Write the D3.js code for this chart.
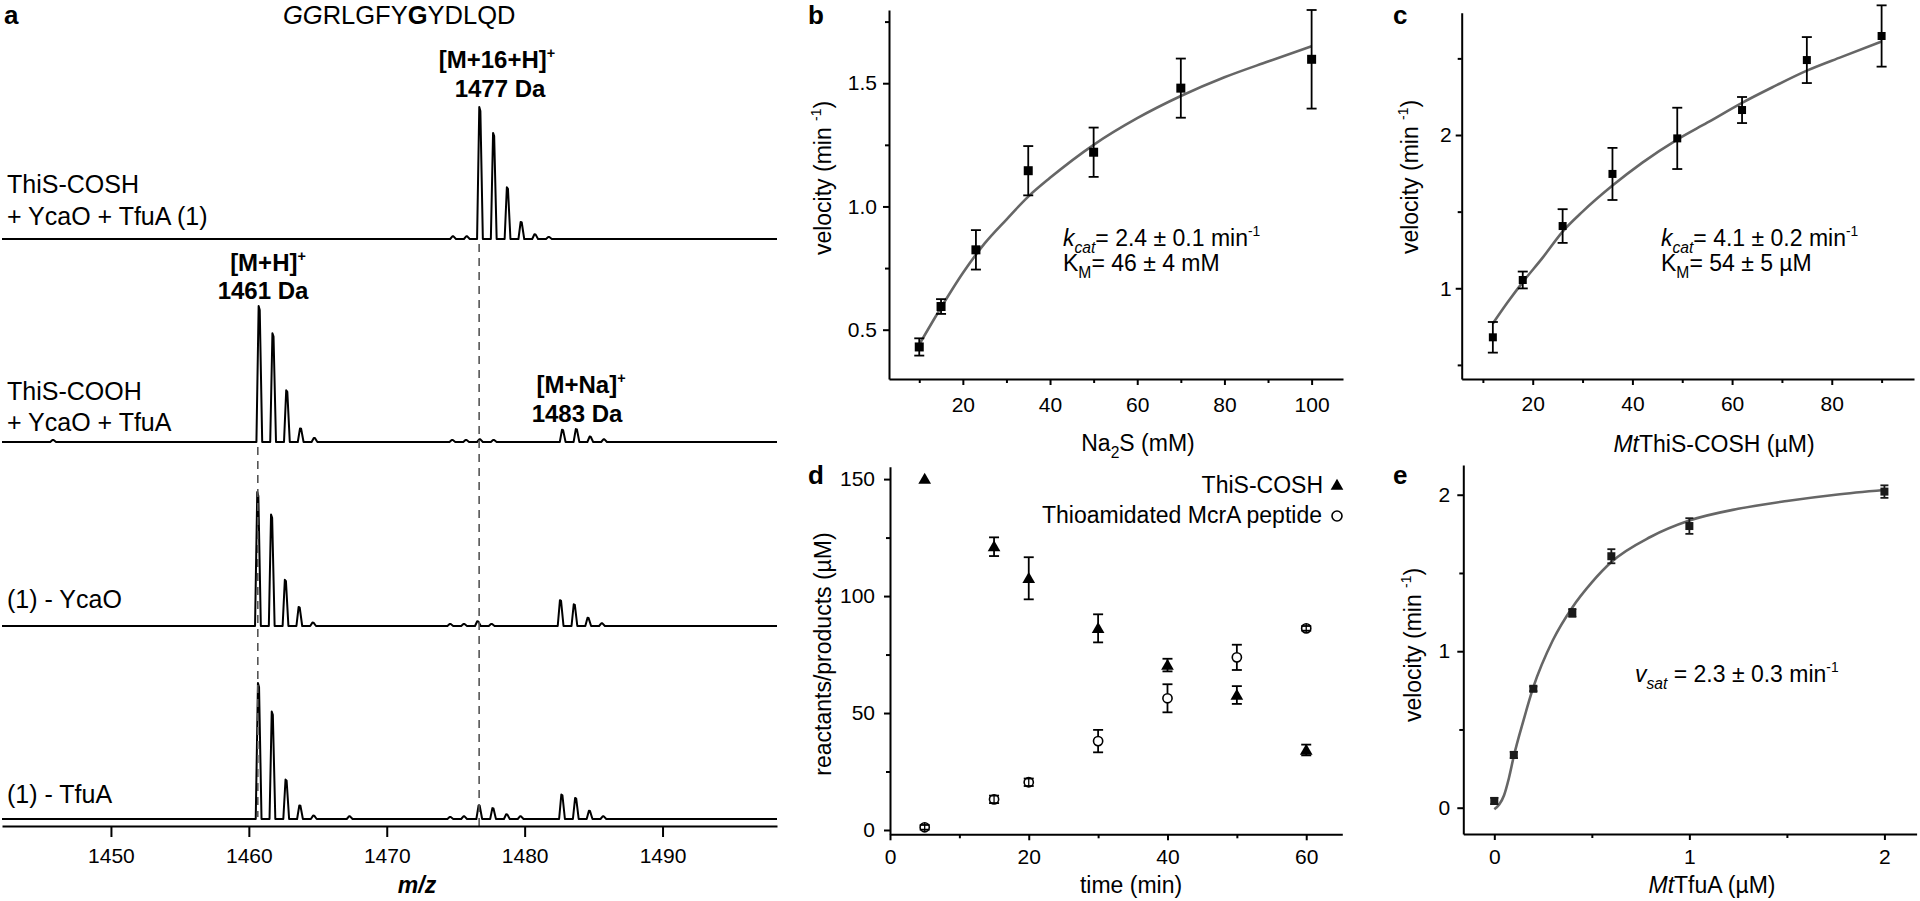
<!DOCTYPE html>
<html><head><meta charset="utf-8">
<script src="https://cdn.jsdelivr.net/npm/d3@7"></script>
<style>
body{margin:0;background:#fff;}
svg text{font-family:"Liberation Sans",Arial,sans-serif;fill:#000;}
</style></head>
<body><svg id="chart" width="1920" height="901"></svg>
<script>
// ---------------- DATA ----------------
// Panel a: MALDI spectra  [m/z, relative intensity %]
const mzTicks = [1450, 1460, 1470, 1480, 1490];
const spec1 = [[1474.8,2],[1475.8,2],[1476.75,97],[1477.75,78],[1478.75,38],[1479.75,12.5],[1480.75,3.5],[1481.75,1.5]];
const spec2 = [[1445.8,1.5],[1460.75,100],[1461.75,80],[1462.75,38],[1463.75,10],[1464.75,3],[1474.75,1.5],[1475.75,1.5],[1476.75,2],[1477.75,1.5],[1482.75,9],[1483.75,9.5],[1484.75,4],[1485.75,2]];
const spec3 = [[1460.65,98.5],[1461.65,82],[1462.65,34],[1463.65,14],[1464.65,2.5],[1474.6,1.5],[1475.6,1.5],[1476.6,3.5],[1477.6,1.5],[1482.6,19],[1483.6,16],[1484.6,6],[1485.6,2]];
const spec4 = [[1460.7,100],[1461.7,79],[1462.7,29],[1463.7,10],[1464.7,2.5],[1467.3,2],[1474.6,1.5],[1475.6,2],[1476.7,10],[1477.7,8],[1478.7,3.5],[1479.7,2],[1482.7,18],[1483.7,15.5],[1484.7,6],[1485.7,2]];
const guideMz = [1460.65, 1476.7];
const sampleLabels = [["ThiS-COSH", "+ YcaO + TfuA (1)"], ["ThiS-COOH", "+ YcaO + TfuA"], ["(1) - YcaO"], ["(1) - TfuA"]];

// Panel b: velocity vs Na2S
const na2sConc = [10, 15, 23, 35, 50, 70, 100];
const na2sVel  = [0.43, 0.594, 0.824, 1.145, 1.22, 1.48, 1.597];
const na2sErr  = [0.035, 0.03, 0.08, 0.1, 0.1, 0.12, 0.2];
const na2sFitX = [10, 15, 20, 25, 30, 35, 40, 50, 60, 70, 80, 90, 100];
const na2sFitY = [0.44, 0.59, 0.73, 0.85, 0.947, 1.04, 1.116, 1.25, 1.358, 1.448, 1.524, 1.588, 1.65];
const bYTicks = [0.5, 1.0, 1.5], bYMinor = [0.75, 1.25, 1.75];
const bXTicks = [20, 40, 60, 80, 100], bXMinor = [10, 30, 50, 70, 90];

// Panel c: velocity vs MtThiS-COSH
const thisConc = [12, 18, 26, 36, 49, 62, 75, 90];
const thisVel  = [0.68, 1.054, 1.406, 1.746, 1.978, 2.163, 2.489, 2.646];
const thisErr  = [0.1, 0.055, 0.11, 0.17, 0.2, 0.085, 0.15, 0.2];
const thisFitX = [12, 15, 18, 22, 26, 30, 36, 42, 49, 55, 62, 68, 75, 82, 90];
const thisFitY = [0.77, 0.91, 1.04, 1.2, 1.37, 1.5, 1.67, 1.82, 1.97, 2.08, 2.21, 2.31, 2.42, 2.51, 2.61];
const cYTicks = [1, 2], cYMinor = [0.5, 1.5, 2.5];
const cXTicks = [20, 40, 60, 80], cXMinor = [10, 30, 50, 70, 90];

// Panel d: time course
const timeMin   = [5, 15, 20, 30, 40, 50, 60];
const thisCosh  = [150, 121.1, 107.6, 86.2, 70.5, 57.7, 34.2];
const thisCoshErr = [0, 4, 9, 6, 2.7, 3.8, 2.3];
const mcrA      = [1.15, 13.1, 20.4, 38, 56.3, 73.8, 86.2];
const mcrAErr   = [1, 1.6, 1.6, 4.8, 6, 5.4, 1];
const dYTicks = [0, 50, 100, 150], dYMinor = [25, 75, 125];
const dXTicks = [0, 20, 40, 60], dXMinor = [10, 30, 50];

// Panel e: velocity vs MtTfuA
const tfuaConc = [0, 0.1, 0.2, 0.4, 0.6, 1, 2];
const tfuaVel  = [0.043, 0.337, 0.76, 1.245, 1.607, 1.8, 2.02];
const tfuaErr  = [0.02, 0.02, 0.015, 0.025, 0.045, 0.05, 0.04];
const tfuaFitX = [0, 0.025, 0.05, 0.075, 0.1, 0.15, 0.2, 0.3, 0.4, 0.5, 0.6, 0.8, 1, 1.25, 1.5, 1.75, 2];
const tfuaFitY = [-0.01, 0.02, 0.08, 0.19, 0.33, 0.56, 0.77, 1.07, 1.28, 1.44, 1.57, 1.73, 1.835, 1.91, 1.96, 2.0, 2.03];
const eYTicks = [0, 1, 2], eYMinor = [0.5, 1.5];
const eXTicks = [0, 1, 2], eXMinor = [0.5, 1.5];

// ---------------- HELPERS ----------------
const svg = d3.select('#chart');
svg.append('rect').attr('width', 1920).attr('height', 901).attr('fill', '#fff');
const FONT = '"Liberation Sans",Arial,sans-serif';

function rich(sel, x, y, parts, size, anchor) {
  const t = sel.append('text').attr('x', x).attr('y', y).attr('font-size', size)
    .attr('text-anchor', anchor || 'start');
  let shift = 0;
  parts.forEach(p => {
    const ts = t.append('tspan').text(p.t);
    const target = p.sub ? size * 0.3 : (p.sup ? -size * 0.42 : 0);
    ts.attr('dy', target - shift); shift = target;
    if (p.sub || p.sup) ts.attr('font-size', size * (p.sup ? 0.6 : 0.68));
    if (p.i) ts.attr('font-style', 'italic');
    if (p.b) ts.attr('font-weight', 'bold');
  });
  return t;
}
function styleAxis(g, size) {
  g.attr('font-size', size || 21).attr('font-family', FONT);
  g.selectAll('path.domain').attr('stroke-width', 2);
  g.selectAll('.tick line').attr('stroke-width', 2);
}
function minorAxis(axisFn, scale, vals, transform) {
  const g = svg.append('g').attr('transform', transform)
    .call(axisFn(scale).tickValues(vals).tickSize(4).tickFormat(() => ''));
  g.select('.domain').remove(); g.selectAll('text').remove(); styleAxis(g);
}
function makeAxes(xs, ys, o) {
  const y0 = ys.range()[0], x0 = xs.range()[0];
  const gx = svg.append('g').attr('transform', `translate(0,${y0})`)
    .call(d3.axisBottom(xs).tickValues(o.xMajor).tickSize(6).tickSizeOuter(0)
      .tickPadding(o.xPad).tickFormat(o.xFmt || (d => d)));
  styleAxis(gx);
  minorAxis(d3.axisBottom, xs, o.xMinor, `translate(0,${y0})`);
  const gy = svg.append('g').attr('transform', `translate(${x0},0)`)
    .call(d3.axisLeft(ys).tickValues(o.yMajor).tickSize(6).tickSizeOuter(0)
      .tickPadding(o.yPad).tickFormat(o.yFmt || (d => d)));
  styleAxis(gy);
  minorAxis(d3.axisLeft, ys, o.yMinor, `translate(${x0},0)`);
}
function yLabel(cx, cy, parts) {
  const t = rich(svg, 0, 0, parts, 23, 'middle');
  t.attr('transform', `translate(${cx + 8},${cy}) rotate(-90)`);
}
function errBars(xs, ys, xv, yv, ev, cap, color) {
  const g = svg.append('g').attr('stroke', color || '#000').attr('stroke-width', 1.8);
  xv.forEach((x, i) => {
    if (!ev[i]) return;
    const px = xs(x), t = ys(yv[i] + ev[i]), b = ys(yv[i] - ev[i]);
    g.append('line').attr('x1', px).attr('x2', px).attr('y1', t).attr('y2', b);
    g.append('line').attr('x1', px - cap / 2).attr('x2', px + cap / 2).attr('y1', t).attr('y2', t);
    g.append('line').attr('x1', px - cap / 2).attr('x2', px + cap / 2).attr('y1', b).attr('y2', b);
  });
}
function squares(xs, ys, xv, yv, s, color) {
  svg.append('g').selectAll('rect').data(xv).join('rect')
    .attr('x', (d) => xs(d) - s / 2).attr('y', (d, i) => ys(yv[i]) - s / 2)
    .attr('width', s).attr('height', s).attr('fill', color || '#000');
}
function fitCurve(xs, ys, fx, fy) {
  svg.append('path').attr('d', d3.line().curve(d3.curveMonotoneX)
      .x((d) => xs(d)).y((d, i) => ys(fy[i]))(fx))
    .attr('fill', 'none').attr('stroke', '#666').attr('stroke-width', 2.6);
}
function panelLetter(x, y, l) {
  svg.append('text').attr('x', x).attr('y', y).attr('font-size', 26).attr('font-weight', 'bold').text(l);
}

// ---------------- PANEL A ----------------
const xA = d3.scaleLinear().domain([1442.1, 1498.3]).range([2, 777]);
const yI = d3.scaleLinear().domain([0, 100]).range([0, 136]);
const baselines = [239, 442, 626, 819];
[spec1, spec2, spec3, spec4].forEach((s, i) => {
  const pts = [[xA.domain()[0], 0]];
  s.slice().sort((a, b) => a[0] - b[0]).forEach(([m, h]) => {
    pts.push([m - 0.2, 0], [m - 0.04, h], [m + 0.04, h * 0.97], [m + 0.22, 0]);
  });
  pts.push([xA.domain()[1], 0]);
  svg.append('path')
    .attr('d', d3.line().x(d => xA(d[0])).y(d => baselines[i] - yI(d[1]))(pts))
    .attr('fill', 'none').attr('stroke', '#000').attr('stroke-width', 2).attr('stroke-linejoin', 'round');
});
// guide lines
svg.append('line').attr('x1', xA(guideMz[0])).attr('x2', xA(guideMz[0])).attr('y1', 447).attr('y2', 817)
  .attr('stroke', '#555').attr('stroke-width', 1.6).attr('stroke-dasharray', '8,6');
svg.append('line').attr('x1', xA(guideMz[1])).attr('x2', xA(guideMz[1])).attr('y1', 244).attr('y2', 826)
  .attr('stroke', '#555').attr('stroke-width', 1.6).attr('stroke-dasharray', '8,6');
const gA = svg.append('g').attr('transform', 'translate(0,826)')
  .call(d3.axisBottom(xA).tickValues(mzTicks).tickSize(11).tickSizeOuter(0).tickPadding(11)
    .tickFormat(d3.format('d')));
styleAxis(gA);
rich(svg, 417, 893, [{ t: 'm/z', i: true, b: true }], 23, 'middle');
panelLetter(4, 24, 'a');
rich(svg, 283, 24, [{ t: 'GG', i: true }, { t: 'RLGFY' }, { t: 'G', b: true }, { t: 'YDLQD' }], 25.5);
// sample labels
const labelY = [[193, 225], [400, 431], [608], [803]];
sampleLabels.forEach((ls, i) => ls.forEach((l, j) => {
  svg.append('text').attr('x', 7).attr('y', labelY[i][j]).attr('font-size', 25).text(l);
}));
// peak annotations
rich(svg, 497, 68, [{ t: '[M+16+H]', b: true }, { t: '+', b: true, sup: true }], 24, 'middle');
rich(svg, 500, 97, [{ t: '1477 Da', b: true }], 24, 'middle');
rich(svg, 268, 271, [{ t: '[M+H]', b: true }, { t: '+', b: true, sup: true }], 24, 'middle');
rich(svg, 263, 299, [{ t: '1461 Da', b: true }], 24, 'middle');
rich(svg, 581, 393, [{ t: '[M+Na]', b: true }, { t: '+', b: true, sup: true }], 24, 'middle');
rich(svg, 577, 422, [{ t: '1483 Da', b: true }], 24, 'middle');

// ---------------- PANEL B ----------------
const xB = d3.scaleLinear().domain([3.06, 107.2]).range([889, 1343]);
const yB = d3.scaleLinear().domain([0.30, 1.797]).range([379, 10]);
makeAxes(xB, yB, { xMajor: bXTicks, xMinor: bXMinor, yMajor: bYTicks, yMinor: bYMinor,
  xPad: 12, yPad: 6, yFmt: d3.format('.1f') });
fitCurve(xB, yB, na2sFitX, na2sFitY);
errBars(xB, yB, na2sConc, na2sVel, na2sErr, 10);
squares(xB, yB, na2sConc, na2sVel, 9);
panelLetter(808, 24, 'b');
yLabel(823, 178, [{ t: 'velocity  (min ' }, { t: '-1', sup: true }, { t: ')' }]);
rich(svg, 1138, 451, [{ t: 'Na' }, { t: '2', sub: true }, { t: 'S (mM)' }], 23, 'middle');
rich(svg, 1063, 246, [{ t: 'k', i: true }, { t: 'cat', i: true, sub: true }, { t: '= 2.4 ± 0.1 min' }, { t: '-1', sup: true }], 23);
rich(svg, 1063, 271, [{ t: 'K' }, { t: 'M', sub: true }, { t: '= 46 ± 4 mM' }], 23);

// ---------------- PANEL C ----------------
const xC = d3.scaleLinear().domain([5.75, 96.5]).range([1461.7, 1914]);
const yC = d3.scaleLinear().domain([0.408, 2.798]).range([379, 12.7]);
makeAxes(xC, yC, { xMajor: cXTicks, xMinor: cXMinor, yMajor: cYTicks, yMinor: cYMinor, xPad: 11, yPad: 4 });
fitCurve(xC, yC, thisFitX, thisFitY);
errBars(xC, yC, thisConc, thisVel, thisErr, 10);
squares(xC, yC, thisConc, thisVel, 8);
panelLetter(1393, 24, 'c');
yLabel(1410, 177, [{ t: 'velocity  (min ' }, { t: '-1', sup: true }, { t: ')' }]);
rich(svg, 1714, 452, [{ t: 'Mt', i: true }, { t: 'ThiS-COSH (µM)' }], 23, 'middle');
rich(svg, 1661, 246, [{ t: 'k', i: true }, { t: 'cat', i: true, sub: true }, { t: '= 4.1 ± 0.2 min' }, { t: '-1', sup: true }], 23);
rich(svg, 1661, 271, [{ t: 'K' }, { t: 'M', sub: true }, { t: '= 54 ± 5 µM' }], 23);

// ---------------- PANEL D ----------------
const xD = d3.scaleLinear().domain([0, 65.2]).range([890, 1342.3]);
const yD = d3.scaleLinear().domain([-1.84, 155.3]).range([834.3, 466.7]);
makeAxes(xD, yD, { xMajor: dXTicks, xMinor: dXMinor, yMajor: dYTicks, yMinor: dYMinor, xPad: 9, yPad: 9 });
const tri = d3.symbol().type(d3.symbolTriangle).size(70);
svg.append('g').selectAll('path').data(timeMin).join('path')
  .attr('d', tri).attr('transform', (d, i) => `translate(${xD(d)},${yD(thisCosh[i]) + 1})`).attr('fill', '#000');
errBars(xD, yD, timeMin, thisCosh, thisCoshErr, 10);
// open circles: bars outside the circle, caps on top
const rC = 4.6;
const gCirc = svg.append('g');
timeMin.forEach((t, i) => {
  const px = xD(t), py = yD(mcrA[i]), et = yD(mcrA[i] + mcrAErr[i]), eb = yD(mcrA[i] - mcrAErr[i]);
  gCirc.append('circle').attr('cx', px).attr('cy', py).attr('r', rC).attr('fill', '#fff').attr('stroke', '#000').attr('stroke-width', 1.6);
  const gl = gCirc.append('g').attr('stroke', '#000').attr('stroke-width', 1.8);
  if (py - et > rC) {
    gl.append('line').attr('x1', px).attr('x2', px).attr('y1', et).attr('y2', py - rC);
    gl.append('line').attr('x1', px).attr('x2', px).attr('y1', py + rC).attr('y2', eb);
  } else {
    gl.append('line').attr('x1', px).attr('x2', px).attr('y1', py - rC).attr('y2', py + rC).attr('stroke-width', 1.3);
  }
  gl.append('line').attr('x1', px - 5).attr('x2', px + 5).attr('y1', et).attr('y2', et);
  gl.append('line').attr('x1', px - 5).attr('x2', px + 5).attr('y1', eb).attr('y2', eb);
});
panelLetter(808, 484, 'd');
yLabel(823, 654, [{ t: 'reactants/products (µM)' }]);
rich(svg, 1131, 893, [{ t: 'time (min)' }], 23, 'middle');
svg.append('text').attr('x', 1323).attr('y', 493).attr('font-size', 23).attr('text-anchor', 'end').text('ThiS-COSH');
svg.append('path').attr('d', tri).attr('transform', 'translate(1337,486)').attr('fill', '#000');
svg.append('text').attr('x', 1322).attr('y', 523).attr('font-size', 23).attr('text-anchor', 'end').text('Thioamidated McrA peptide');
svg.append('circle').attr('cx', 1337).attr('cy', 516).attr('r', 5).attr('fill', '#fff').attr('stroke', '#000').attr('stroke-width', 1.6);

// ---------------- PANEL E ----------------
const xE = d3.scaleLinear().domain([-0.159, 2.165]).range([1463.3, 1916.6]);
const yE = d3.scaleLinear().domain([-0.168, 2.19]).range([834, 465]);
makeAxes(xE, yE, { xMajor: eXTicks, xMinor: eXMinor, yMajor: eYTicks, yMinor: eYMinor, xPad: 9, yPad: 7 });
fitCurve(xE, yE, tfuaFitX, tfuaFitY);
errBars(xE, yE, tfuaConc, tfuaVel, tfuaErr, 8, '#1a1a1a');
squares(xE, yE, tfuaConc, tfuaVel, 8, '#1a1a1a');
panelLetter(1393, 484, 'e');
yLabel(1413, 645, [{ t: 'velocity  (min ' }, { t: '-1', sup: true }, { t: ')' }]);
rich(svg, 1712, 893, [{ t: 'Mt', i: true }, { t: 'TfuA (µM)' }], 23, 'middle');
rich(svg, 1635, 682, [{ t: 'v', i: true }, { t: 'sat', i: true, sub: true }, { t: ' =  2.3 ± 0.3 min' }, { t: '-1', sup: true }], 23);
</script></body></html>
